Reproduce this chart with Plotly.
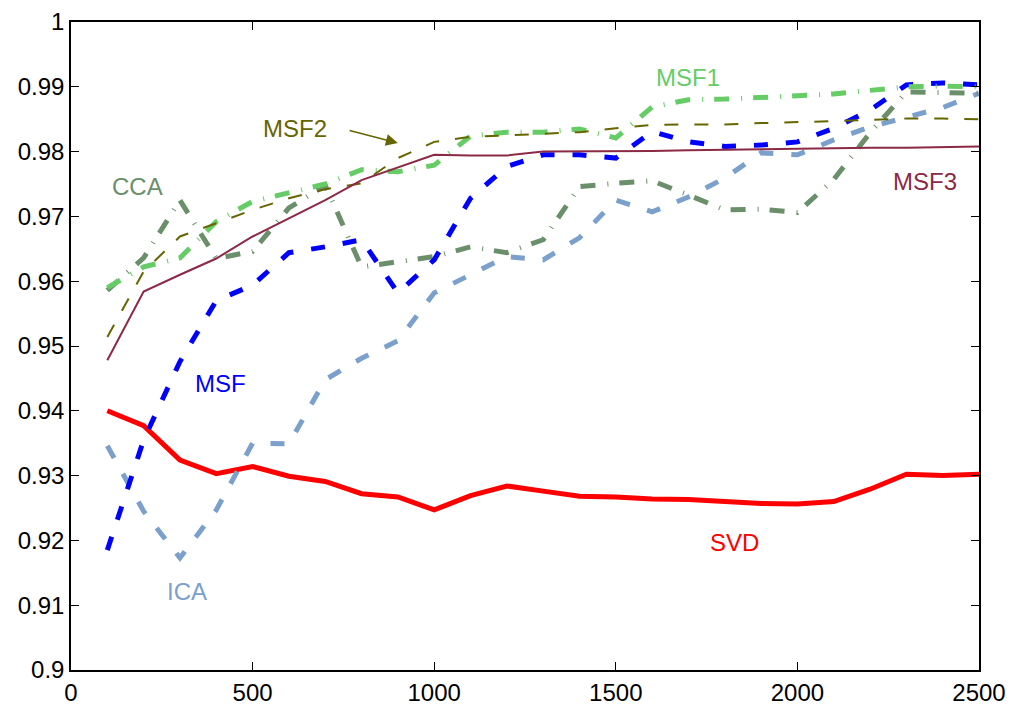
import plotly.graph_objects as go

x_vals = list(range(100, 2600, 100))

svd = [0.9400, 0.9377, 0.9324, 0.9303, 0.9314, 0.9299, 0.9291, 0.9272, 0.9267, 0.9247,
       0.9269, 0.9284, 0.9276, 0.9268, 0.9267, 0.9264, 0.9263, 0.9260, 0.9257, 0.9256,
       0.9260, 0.9279, 0.9302, 0.9300, 0.9302]
ica = [0.9346, 0.9245, 0.9173, 0.9247, 0.9350, 0.9349, 0.9448, 0.9481, 0.9508, 0.9582,
       0.9610, 0.9638, 0.9633, 0.9667, 0.9725, 0.9707, 0.9730, 0.9759, 0.9798, 0.9795,
       0.9818, 0.9838, 0.9853, 0.9868, 0.9890]
cca = [0.9586, 0.9636, 0.9725, 0.9635, 0.9646, 0.9713, 0.9748, 0.9622, 0.9630, 0.9638,
       0.9653, 0.9644, 0.9664, 0.9746, 0.9751, 0.9755, 0.9733, 0.9710, 0.9711, 0.9706,
       0.9757, 0.9829, 0.9892, 0.9891, 0.9890]
msf = [0.9185, 0.9355, 0.9476, 0.9570, 0.9594, 0.9644, 0.9653, 0.9664, 0.9582, 0.9633,
       0.9728, 0.9777, 0.9795, 0.9795, 0.9790, 0.9831, 0.9815, 0.9808, 0.9810, 0.9815,
       0.9836, 0.9864, 0.9903, 0.9906, 0.9903]
msf1 = [0.9590, 0.9622, 0.9636, 0.9692, 0.9723, 0.9736, 0.9750, 0.9772, 0.9769, 0.9779,
        0.9824, 0.9830, 0.9830, 0.9835, 0.9821, 0.9869, 0.9880, 0.9881, 0.9883, 0.9886,
        0.9889, 0.9894, 0.9900, 0.9901, 0.9900]
msf2 = [0.9514, 0.9615, 0.9669, 0.9690, 0.9710, 0.9728, 0.9742, 0.9751, 0.9790, 0.9815,
        0.9823, 0.9825, 0.9828, 0.9830, 0.9836, 0.9841, 0.9842, 0.9842, 0.9844, 0.9845,
        0.9847, 0.9849, 0.9851, 0.9851, 0.9850]
msf3 = [0.9478, 0.9584, 0.9610, 0.9635, 0.9669, 0.9697, 0.9725, 0.9756, 0.9776, 0.9795,
        0.9794, 0.9794, 0.9800, 0.9800, 0.9801, 0.9801, 0.9802, 0.9803, 0.9803, 0.9804,
        0.9805, 0.9806, 0.9806, 0.9807, 0.9808]

y_ticks = [0.9, 0.91, 0.92, 0.93, 0.94, 0.95, 0.96, 0.97, 0.98, 0.99, 1.0]
y_tick_text = ["0.9", "0.91", "0.92", "0.93", "0.94", "0.95", "0.96", "0.97", "0.98", "0.99", "1"]
x_ticks = [0, 500, 1000, 1500, 2000, 2500]

C_SVD = "#ff0000"
C_ICA = "#7ba0cc"
C_CCA = "#6b8f6b"
C_MSF = "#0000ff"
C_MSF1 = "#66cc66"
C_MSF2 = "#666600"
C_MSF3 = "#8c2a46"

FONT = "Liberation Sans, Arial, sans-serif"

fig = go.Figure()
series = [
    ("SVD", svd, C_SVD, 5, "solid"),
    ("ICA", ica, C_ICA, 5, "14px,18px"),
    ("CCA", cca, C_CCA, 5, "15px,12px,1px,11px"),
    ("MSF", msf, C_MSF, 5, "14px,18px"),
    ("MSF1", msf1, C_MSF1, 5, "15px,12px,1px,11px"),
    ("MSF2", msf2, C_MSF2, 2, "14px,16px"),
    ("MSF3", msf3, C_MSF3, 2, "solid"),
]
for name, ys, col, w, dash in series:
    fig.add_trace(go.Scatter(x=x_vals, y=ys, mode="lines", name=name,
                             line=dict(color=col, width=w, dash=dash),
                             showlegend=False))

labels = [
    ("MSF1", 1699, 0.99136, C_MSF1),
    ("MSF2", 617, 0.98349, C_MSF2),
    ("CCA", 182, 0.97469, C_CCA),
    ("MSF3", 2351, 0.97546, C_MSF3),
    ("MSF", 412, 0.94429, C_MSF),
    ("ICA", 319, 0.91219, C_ICA),
    ("SVD", 1826, 0.91975, C_SVD),
]
for txt, lx, ly, col in labels:
    fig.add_annotation(x=lx, y=ly, text=txt, showarrow=False,
                       font=dict(family=FONT, size=24, color=col),
                       xanchor="center", yanchor="middle")

# arrow from MSF2 label to its line
fig.add_annotation(x=900, y=0.98133, ax=763, ay=0.98333, axref="x", ayref="y",
                   text="", showarrow=True, arrowhead=2, arrowsize=1.6,
                   arrowwidth=1.5, arrowcolor=C_MSF2)

axis_common = dict(showline=True, linecolor="black", linewidth=1.5, mirror="ticks",
                   ticks="inside", ticklen=8, tickcolor="black", tickwidth=1,
                   showgrid=False, zeroline=False, automargin=False,
                   tickfont=dict(family=FONT, size=24, color="black"))

fig.update_xaxes(range=[0, 2500], tickvals=x_ticks, **axis_common)
fig.update_yaxes(range=[0.9, 1.0], tickvals=y_ticks, ticktext=y_tick_text, **axis_common)

fig.update_layout(width=1013, height=708,
                  margin=dict(l=71, r=34, t=22, b=38),
                  plot_bgcolor="white", paper_bgcolor="white")

fig.write_html("out.html")
